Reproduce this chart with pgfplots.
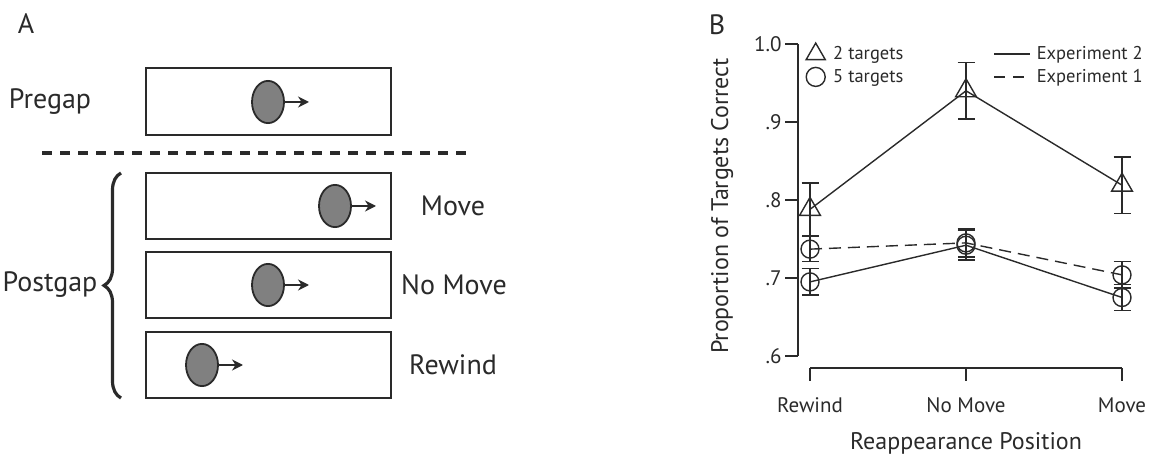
\documentclass[border=0pt]{standalone}
\usepackage{fontspec}
\setmainfont{PT Sans}
\usepackage{pgfplots}
\pgfplotsset{compat=1.18}
\usetikzlibrary{arrows.meta,decorations.pathreplacing}
\definecolor{ink}{HTML}{2A2A2A}
\definecolor{ballfill}{HTML}{808080}
\begin{document}
\begin{tikzpicture}[x=1pt,y=1pt]
\useasboundingbox (0pt,0pt) rectangle (1151pt,454pt);
% ---------------- Panel A ----------------
\begin{axis}[at={(0pt,0pt)}, anchor=south west, scale only axis,
  width=700pt, height=454pt, xmin=0, xmax=700, ymin=0, ymax=454,
  y dir=reverse, hide axis, clip=false]
\draw[line width=2.2pt, ink] (axis cs:146,68) rectangle (axis cs:391,135);
\draw[line width=2.2pt, ink] (axis cs:146,173) rectangle (axis cs:391,239);
\draw[line width=2.2pt, ink] (axis cs:146,252) rectangle (axis cs:391,318);
\draw[line width=2.2pt, ink] (axis cs:146,332) rectangle (axis cs:391,398);
\draw[line width=4.5pt, ink, dash pattern=on 10pt off 8pt] (axis cs:42,153) -- (axis cs:470,153);
\draw[decorate, decoration={brace, amplitude=17pt}, line width=3.2pt, ink] (axis cs:121,398) -- (axis cs:121,173);
\draw[-{Stealth[length=11pt,width=11pt]}, line width=2pt, ink] (axis cs:284,102) -- (axis cs:309,102);
\draw[-{Stealth[length=11pt,width=11pt]}, line width=2pt, ink] (axis cs:351,206) -- (axis cs:376,206);
\draw[-{Stealth[length=11pt,width=11pt]}, line width=2pt, ink] (axis cs:284,285) -- (axis cs:309,285);
\draw[-{Stealth[length=11pt,width=11pt]}, line width=2pt, ink] (axis cs:218,365) -- (axis cs:243,365);
\addplot[only marks, mark=*, mark size=16pt,
  mark options={fill=ballfill, draw=ink, line width=1.8pt, yscale=1.32}]
  coordinates {(268,102) (335,206) (268,285) (202,365)};
\node[font=\fontsize{28}{30}\selectfont, text=ink] at (axis cs:26,24) {A};
\node[font=\fontsize{28}{30}\selectfont, text=ink] at (axis cs:50,102) {Pregap};
\node[font=\fontsize{28}{30}\selectfont, text=ink] at (axis cs:50,285) {Postgap};
\node[font=\fontsize{28}{30}\selectfont, text=ink] at (axis cs:453,206) {Move};
\node[font=\fontsize{28}{30}\selectfont, text=ink] at (axis cs:454,285) {No Move};
\node[font=\fontsize{28}{30}\selectfont, text=ink] at (axis cs:453,365) {Rewind};
\end{axis}
% ---------------- Panel B ----------------
\begin{axis}[at={(798pt,86pt)}, anchor=south west, scale only axis,
  width=336pt, height=324pt,
  xmin=-0.076923, xmax=2.076923, ymin=0.584615, ymax=1.0,
  clip=false, axis line style={draw=none},
  tick align=outside, tick pos=left,
  xtick={0,1,2}, xticklabels={Rewind,No Move,Move},
  ytick={0.6,0.7,0.8,0.9,1.0}, yticklabels={.6,.7,.8,.9,1.0},
  major tick length=13pt, tick style={line width=1.5pt, ink},
  tick label style={font=\fontsize{21}{24}\selectfont, text=ink},
  xticklabel style={yshift=-13pt},
  xlabel={Reappearance Position}, ylabel={Proportion of Targets Correct},
  label style={font=\fontsize{24}{28}\selectfont, text=ink},
  xlabel style={yshift=-13pt},
  ylabel style={yshift=14pt},
  legend columns=2,
  legend style={draw=none, fill=none, at={(axis cs:-0.045,1.004)}, anchor=north west,
    font=\fontsize{18.5}{21}\selectfont, text=ink, row sep=4pt,
    /tikz/column 1/.style={column sep=6pt},
    /tikz/column 2/.style={column sep=88pt},
    /tikz/column 3/.style={column sep=4pt}},
  legend cell align=left,
]
\draw[line width=1.5pt, ink] (axis cs:-0.076923,0.6) -- (axis cs:-0.076923,1.0);
\draw[line width=1.5pt, ink] (axis cs:0,0.584615) -- (axis cs:2,0.584615);
% 5 targets, Experiment 1 (dashed)
\addplot[forget plot, ink, line width=1.4pt, dash pattern=on 12pt off 7pt,
  mark=o, mark size=9pt, mark options={fill=white, solid},
  error bars/.cd, y dir=both, y explicit,
  error bar style={solid, line width=1.4pt, ink},
  error mark options={rotate=90, mark size=8.5pt, line width=1.4pt, ink}]
  coordinates {(0,0.737) +- (0,0.016) (1,0.745) +- (0,0.018) (2,0.704) +- (0,0.017)};
% 5 targets, Experiment 2 (solid)
\addplot[forget plot, ink, line width=1.4pt,
  mark=o, mark size=9pt, mark options={fill=white, solid},
  error bars/.cd, y dir=both, y explicit,
  error bar style={solid, line width=1.4pt, ink},
  error mark options={rotate=90, mark size=8.5pt, line width=1.4pt, ink}]
  coordinates {(0,0.695) +- (0,0.017) (1,0.742) +- (0,0.019) (2,0.675) +- (0,0.017)};
% 2 targets, Experiment 2 (solid)
\addplot[forget plot, ink, line width=1.4pt,
  mark=triangle, mark size=12pt, mark options={fill=white, solid},
  error bars/.cd, y dir=both, y explicit,
  error bar style={solid, line width=1.4pt, ink},
  error mark options={rotate=90, mark size=8.5pt, line width=1.4pt, ink}]
  coordinates {(0,0.788) +- (0,0.034) (1,0.940) +- (0,0.036) (2,0.819) +- (0,0.036)};
% legend
\addlegendimage{legend image code/.code={\draw[ink, line width=1.4pt, mark=triangle, mark size=11pt, mark options={fill=white}] plot coordinates {(0pt,0pt)};}}
\addlegendentry{2 targets}
\addlegendimage{legend image code/.code={\draw[ink, line width=1.4pt] (0pt,0pt) -- (36pt,0pt);}}
\addlegendentry{Experiment 2}
\addlegendimage{legend image code/.code={\draw[ink, line width=1.4pt, mark=o, mark size=9.5pt, mark options={fill=white}] plot coordinates {(0pt,0pt)};}}
\addlegendentry{5 targets}
\addlegendimage{legend image code/.code={\draw[ink, line width=1.4pt, dash pattern=on 11pt off 8pt] (0pt,0pt) -- (36pt,0pt);}}
\addlegendentry{Experiment 1}
\end{axis}
\node[font=\fontsize{28}{30}\selectfont, text=ink] at (717pt,429pt) {B};
\end{tikzpicture}
\end{document}
